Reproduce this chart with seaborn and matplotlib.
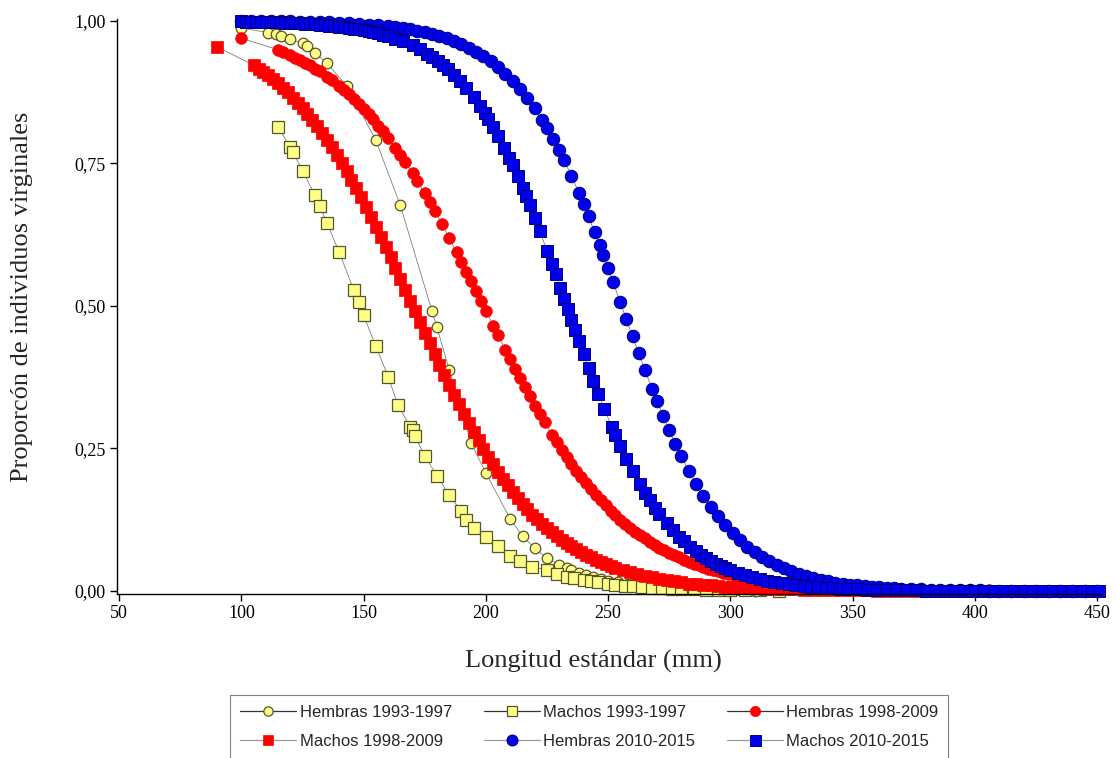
import matplotlib
matplotlib.use('Agg')
import matplotlib.pyplot as plt
from matplotlib.lines import Line2D
import seaborn as sns

# Hembras 1993-1997 (yellow circles)
hembras_93_x = [100, 111, 114, 116, 120, 125, 127, 130, 135, 143, 155, 165, 178, 180, 185, 194, 200, 210,
                215, 220, 225, 230, 233, 235, 238, 241, 244, 247, 250, 254, 258, 262, 266, 270, 275, 280,
                285, 290, 296, 302, 310]
hembras_93_y = [0.987, 0.979, 0.977, 0.973, 0.968, 0.960, 0.955, 0.944, 0.925, 0.886, 0.790, 0.676, 0.490,
                0.462, 0.388, 0.259, 0.207, 0.126, 0.096, 0.075, 0.057, 0.046, 0.040, 0.036, 0.031, 0.028,
                0.024, 0.021, 0.018, 0.015, 0.012, 0.0095, 0.0075, 0.006, 0.0045, 0.0035, 0.0027, 0.002,
                0.0015, 0.001, 0.0007]

# Machos 1993-1997 (yellow squares)
machos_93_x = [115, 120, 121, 125, 130, 132, 135, 140, 146, 148, 150, 155, 160, 164, 169, 170, 171, 175,
               180, 185, 190, 192, 195, 200, 205, 210, 214, 219, 225, 229, 233, 236, 240, 243, 246, 250,
               253, 257, 260, 264, 268, 272, 276, 280, 285, 290, 295, 300, 306, 312, 320]
machos_93_y = [0.813, 0.778, 0.769, 0.737, 0.694, 0.675, 0.645, 0.594, 0.527, 0.507, 0.483, 0.429, 0.376,
               0.326, 0.288, 0.282, 0.271, 0.237, 0.202, 0.168, 0.140, 0.124, 0.111, 0.094, 0.079, 0.062,
               0.052, 0.042, 0.037, 0.030, 0.025, 0.022, 0.019, 0.017, 0.015, 0.013, 0.011, 0.0095, 0.0085,
               0.007, 0.006, 0.005, 0.0042, 0.0036, 0.003, 0.0024, 0.0019, 0.0015, 0.0012, 0.0009, 0.0006]

# Hembras 1998-2009 (red circles)
hembras_98_x = [100, 115, 117, 120, 122, 124, 126, 128, 130, 132, 135, 137, 140, 142, 144, 146, 148, 150,
                152, 154, 156, 158, 160, 163, 165, 167, 170, 172, 175, 177, 179, 182, 185, 188, 190, 192,
                194, 196, 198, 200, 203, 205, 208, 210, 212, 214, 216, 218, 220, 222, 224, 227, 229, 231,
                233, 235, 237, 239, 241, 243, 245, 247, 249, 251, 253, 255, 257, 259, 261, 263, 265, 267,
                269, 271, 273, 275, 277, 279, 281, 283, 285, 287, 289, 291, 293, 295, 297, 299, 302, 305,
                308, 311, 314, 317, 320, 323, 326, 329, 332, 335, 338, 341, 344, 347, 350, 354, 358, 362,
                366, 370, 374, 378, 382, 386, 390, 394, 398, 402, 406, 410, 414, 418, 422, 426, 430, 434,
                438, 442, 446, 450]
hembras_98_y = [0.969, 0.949, 0.945, 0.939, 0.935, 0.931, 0.926, 0.922, 0.916, 0.911, 0.902, 0.896, 0.886,
                0.878, 0.871, 0.863, 0.854, 0.845, 0.836, 0.827, 0.816, 0.806, 0.795, 0.777, 0.765, 0.752,
                0.732, 0.719, 0.697, 0.682, 0.667, 0.643, 0.619, 0.594, 0.577, 0.560, 0.543, 0.526, 0.509,
                0.491, 0.465, 0.448, 0.423, 0.406, 0.389, 0.373, 0.357, 0.341, 0.325, 0.310, 0.296, 0.274,
                0.261, 0.248, 0.235, 0.223, 0.211, 0.200, 0.189, 0.178, 0.169, 0.159, 0.150, 0.141, 0.133,
                0.125, 0.118, 0.111, 0.104, 0.098, 0.092, 0.086, 0.081, 0.076, 0.071, 0.067, 0.063, 0.059,
                0.055, 0.051, 0.048, 0.045, 0.042, 0.039, 0.037, 0.035, 0.032, 0.030, 0.027, 0.025, 0.022,
                0.020, 0.018, 0.016, 0.015, 0.013, 0.012, 0.011, 0.0098, 0.0088, 0.0080, 0.0072, 0.0065,
                0.0058, 0.0053, 0.0046, 0.0040, 0.0035, 0.0030, 0.0026, 0.0023, 0.0020, 0.0017, 0.0015,
                0.0013, 0.0011, 0.0010, 0.0009, 0.0008, 0.0007, 0.0006, 0.0005, 0.0004, 0.0004, 0.0003,
                0.0003, 0.0003, 0.0002, 0.0002, 0.0002]

# Machos 1998-2009 (red squares)
machos_98_x = [90, 105, 107, 109, 111, 113, 115, 117, 119, 121, 123, 125, 127, 129, 131, 133, 135, 137,
               139, 141, 143, 145, 147, 149, 151, 153, 155, 157, 159, 161, 163, 165, 167, 169, 171, 173,
               175, 177, 179, 181, 183, 185, 187, 189, 191, 193, 195, 197, 199, 201, 203, 205, 207, 209,
               211, 213, 215, 217, 219, 221, 223, 225, 227, 229, 231, 233, 235, 237, 239, 241, 243, 245,
               247, 249, 251, 253, 256, 259, 262, 265, 268, 271, 274, 277, 280, 283, 286, 289, 292, 295,
               298, 301, 304, 307, 310, 314, 318, 322, 326, 330, 334, 338, 342, 346, 350, 355, 360, 365,
               370, 375, 380, 386, 392, 398, 404, 410, 416, 422, 428, 434, 440, 446]
machos_98_y = [0.954, 0.922, 0.916, 0.910, 0.904, 0.897, 0.890, 0.882, 0.874, 0.865, 0.856, 0.847, 0.837,
               0.826, 0.815, 0.803, 0.791, 0.778, 0.765, 0.751, 0.736, 0.721, 0.706, 0.690, 0.673, 0.656,
               0.639, 0.621, 0.603, 0.585, 0.566, 0.547, 0.528, 0.509, 0.491, 0.472, 0.453, 0.434, 0.415,
               0.397, 0.379, 0.361, 0.344, 0.327, 0.310, 0.294, 0.279, 0.264, 0.249, 0.235, 0.222, 0.209,
               0.197, 0.185, 0.174, 0.163, 0.153, 0.144, 0.134, 0.126, 0.118, 0.110, 0.103, 0.096, 0.090,
               0.084, 0.078, 0.073, 0.068, 0.063, 0.059, 0.055, 0.051, 0.047, 0.044, 0.041, 0.037, 0.033,
               0.029, 0.026, 0.024, 0.021, 0.019, 0.017, 0.015, 0.013, 0.012, 0.011, 0.0096, 0.0086,
               0.0077, 0.0068, 0.0061, 0.0054, 0.0048, 0.0041, 0.0035, 0.0030, 0.0026, 0.0023, 0.0020,
               0.0017, 0.0015, 0.0013, 0.0011, 0.0009, 0.0007, 0.0006, 0.0005, 0.0004, 0.0003, 0.0003,
               0.0002, 0.0002, 0.0001, 0.0001, 0.0001, 0.0001, 0.0001, 0.0, 0.0, 0.0]

# Hembras 2010-2015 (blue circles)
hembras_10_x = [100, 104, 108, 112, 116, 120, 124, 128, 132, 136, 140, 144, 148, 152, 156, 160, 163, 166,
                169, 172, 175, 178, 181, 184, 187, 190, 193, 196, 199, 202, 205, 208, 211, 214, 217, 220,
                223, 225, 227.5, 230, 232, 235, 238, 240, 242, 244.5, 246.5, 248, 250, 252, 255, 257.5,
                260, 262.5, 265, 268, 270, 272.5, 275, 277.5, 280, 283, 286, 289, 292, 295, 298, 301, 304,
                307, 310, 313, 316, 319, 322, 325, 328, 331, 334, 337, 340, 343, 346, 349, 352, 355, 358,
                361, 364, 367, 370, 374, 378, 382, 386, 390, 394, 398, 402, 406, 410, 415, 420, 425, 430,
                435, 440, 445, 450]
hembras_10_y = [0.9994, 0.9993, 0.9992, 0.9990, 0.9988, 0.9985, 0.9982, 0.9978, 0.9973, 0.9968, 0.9961,
                0.9953, 0.9943, 0.9931, 0.9916, 0.9899, 0.9883, 0.9866, 0.9845, 0.9822, 0.9794, 0.9763,
                0.9728, 0.9687, 0.9640, 0.9587, 0.9526, 0.9456, 0.9377, 0.9288, 0.9186, 0.9072, 0.8944,
                0.8800, 0.8639, 0.8460, 0.8264, 0.8122, 0.7931, 0.7727, 0.7555, 0.7279, 0.6985, 0.6779,
                0.6566, 0.6290, 0.6064, 0.5891, 0.5656, 0.5419, 0.5060, 0.4760, 0.4462, 0.4168, 0.3879,
                0.3544, 0.3327, 0.3066, 0.2817, 0.2581, 0.2358, 0.2108, 0.1879, 0.1669, 0.1478, 0.1306,
                0.1151, 0.1012, 0.0888, 0.0778, 0.0681, 0.0595, 0.0520, 0.0453, 0.0395, 0.0344, 0.0299,
                0.0260, 0.0226, 0.0196, 0.0170, 0.0148, 0.0128, 0.0111, 0.0096, 0.0084, 0.0072, 0.0063,
                0.0054, 0.0047, 0.0041, 0.0034, 0.0028, 0.0023, 0.0019, 0.0016, 0.0013, 0.0011, 0.0009,
                0.0007, 0.0006, 0.0005, 0.0004, 0.0003, 0.0002, 0.0002, 0.0001, 0.0001, 0.0001]

# Machos 2010-2015 (blue squares)
machos_10_x = [100, 102, 104, 106, 108, 110, 112, 114, 116, 118, 120, 122, 124, 126, 128, 130, 132, 134,
               136, 138, 140, 142, 144, 146, 148, 150, 152, 154, 156, 158, 160, 163, 166, 170, 173, 176,
               178, 180.5, 182.5, 184.5, 187, 189.5, 192, 195, 197.5, 199.5, 201, 203, 205, 207.5, 209.5,
               211, 213, 215, 216.5, 218, 220, 222, 225, 227, 228.5, 230.5, 232, 233.5, 235, 236.5, 238,
               240, 242, 244, 246, 248.5, 251.5, 253, 255, 257.5, 260, 263, 265, 267, 269, 271, 274,
               276.5, 279, 281, 283.5, 286, 288, 290, 292, 294, 296, 298, 300, 303, 306, 309, 312, 315,
               318, 321, 324, 327, 330, 333, 336, 339, 342, 345, 348, 352, 356, 360, 364, 368, 372, 376,
               380, 384, 388, 392, 396, 400, 404, 408, 412, 416, 420, 424, 428, 432, 436, 440, 444, 448, 451]
machos_10_y = [0.9985, 0.9984, 0.9982, 0.9980, 0.9978, 0.9976, 0.9973, 0.9971, 0.9968, 0.9964, 0.9961,
               0.9957, 0.9952, 0.9947, 0.9942, 0.9936, 0.9930, 0.9922, 0.9914, 0.9906, 0.9896, 0.9885,
               0.9874, 0.9861, 0.9847, 0.9832, 0.9815, 0.9796, 0.9775, 0.9753, 0.9728, 0.9686, 0.9639,
               0.9564, 0.9498, 0.9423, 0.9368, 0.9291, 0.9223, 0.9150, 0.9050, 0.8939, 0.8818, 0.8655,
               0.8506, 0.8377, 0.8275, 0.8131, 0.7977, 0.7772, 0.7598, 0.7461, 0.7271, 0.7072, 0.6918,
               0.6759, 0.6541, 0.6316, 0.5968, 0.5730, 0.5549, 0.5306, 0.5122, 0.4939, 0.4755, 0.4572,
               0.4391, 0.4151, 0.3915, 0.3684, 0.3459, 0.3187, 0.2877, 0.2729, 0.2539, 0.2314, 0.2103,
               0.1869, 0.1725, 0.1590, 0.1463, 0.1345, 0.1183, 0.1061, 0.0950, 0.0869, 0.0777, 0.0693,
               0.0633, 0.0577, 0.0526, 0.0479, 0.0436, 0.0397, 0.0362, 0.0314, 0.0272, 0.0236, 0.0204,
               0.0177, 0.0153, 0.0132, 0.0114, 0.0099, 0.0085, 0.0074, 0.0064, 0.0055, 0.0048, 0.0041,
               0.0036, 0.0029, 0.0024, 0.0020, 0.0016, 0.0013, 0.0011, 0.0009, 0.0007, 0.0006, 0.0005,
               0.0004, 0.0003, 0.0003, 0.0002, 0.0002, 0.0002, 0.0001, 0.0001, 0.0001, 0.0001, 0.0001,
               0.0, 0.0, 0.0, 0.0, 0.0]

x_ticks = [50, 100, 150, 200, 250, 300, 350, 400, 450]
y_ticks = [0.0, 0.25, 0.5, 0.75, 1.0]
y_tick_labels = ['0,00', '0,25', '0,50', '0,75', '1,00']

sns.set_style('ticks')
plt.rcParams['font.family'] = ['Liberation Serif', 'DejaVu Serif']

yellow = '#FFFF88'
yellow_edge = '#55552a'
red = '#FF0000'
blue = '#0000EE'
blue_edge = '#00007a'

# name, x, y, marker, face, edge, size, edge width, legend line colour
series = [
    ('Hembras 1993-1997', hembras_93_x, hembras_93_y, 'o', yellow, yellow_edge, 7.6, 0.9, '#333333'),
    ('Machos 1993-1997', machos_93_x, machos_93_y, 's', yellow, yellow_edge, 8.3, 0.9, '#333333'),
    ('Hembras 1998-2009', hembras_98_x, hembras_98_y, 'o', red, red, 8.4, 0.5, '#333333'),
    ('Machos 1998-2009', machos_98_x, machos_98_y, 's', red, red, 8.6, 0.5, '#999999'),
    ('Hembras 2010-2015', hembras_10_x, hembras_10_y, 'o', blue, blue_edge, 9.0, 0.7, '#999999'),
    ('Machos 2010-2015', machos_10_x, machos_10_y, 's', blue, blue_edge, 9.0, 0.7, '#999999'),
]

fig = plt.figure(figsize=(11.16, 7.58), dpi=100)
ax = fig.add_axes([0.1048, 0.2164, 0.8827, 0.7579])

handles = {}
for name, xs, ys, mk, face, edge, ms, mew, leg_line in series:
    sns.lineplot(x=xs, y=ys, ax=ax, sort=False, estimator=None, color='#7f7f7f', lw=0.6,
                 marker=mk, markersize=ms, markerfacecolor=face, markeredgecolor=edge,
                 markeredgewidth=mew, clip_on=False)
    handles[name] = Line2D([], [], color=leg_line, lw=0.9, marker=mk, markersize=ms * 0.88,
                           markerfacecolor=face, markeredgecolor=edge, markeredgewidth=mew)

ax.set_xlim(49.06, 452.1)
ax.set_ylim(-0.0053, 1.002)
ax.set_xticks(x_ticks)
ax.set_xticklabels([str(t) for t in x_ticks])
ax.set_yticks(y_ticks)
ax.set_yticklabels(y_tick_labels)
ax.tick_params(direction='out', length=5, width=1, labelsize=13, pad=3, colors='black')
for s in ['top', 'right']:
    ax.spines[s].set_visible(False)
for s in ['left', 'bottom']:
    ax.spines[s].set_linewidth(1.0)
    ax.spines[s].set_color('black')

ax.set_xlabel('Longitud estándar (mm)', fontsize=19, va='center')
ax.xaxis.set_label_coords(0.4838, -0.118)
ax.set_ylabel('Proporcón de individuos virginales', fontsize=19, va='center')
ax.yaxis.set_label_coords(-0.0964, 0.518)

order = ['Hembras 1993-1997', 'Machos 1998-2009', 'Machos 1993-1997',
         'Hembras 2010-2015', 'Hembras 1998-2009', 'Machos 2010-2015']
leg = fig.legend([handles[n] for n in order], order, loc='upper left',
                 bbox_to_anchor=(230.3 / 1116, 1 - 694.7 / 758), borderaxespad=0, ncol=3,
                 prop={'family': 'Liberation Sans', 'size': 12}, handlelength=3.36,
                 handletextpad=0.2, columnspacing=1.9, borderpad=0.6, labelspacing=0.85,
                 fancybox=False, framealpha=1, edgecolor='#808080')
leg.get_frame().set_linewidth(0.8)

fig.savefig('out.png', dpi=100)
